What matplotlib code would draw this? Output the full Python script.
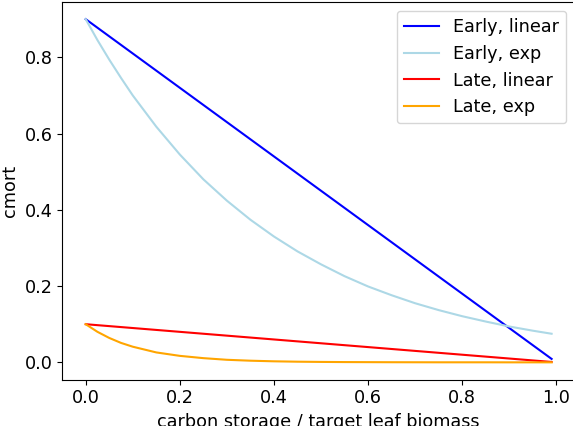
import matplotlib
matplotlib.use("Agg")
import matplotlib.pyplot as plt

# x positions (carbon storage / target leaf biomass) at which curves were read
x_grid = [0.0, 0.025, 0.05, 0.075, 0.1, 0.15, 0.2, 0.25, 0.3, 0.35, 0.4, 0.45,
          0.5, 0.55, 0.6, 0.65, 0.7, 0.75, 0.8, 0.85, 0.9, 0.95, 0.99]

# straight lines: endpoints
x_linear = [0.0, 0.99]
early_linear = [0.9, 0.009]
late_linear = [0.1, 0.001]

early_exp = [0.900, 0.845, 0.794, 0.746, 0.700, 0.618, 0.545, 0.480, 0.424,
             0.374, 0.330, 0.291, 0.257, 0.226, 0.199, 0.176, 0.155, 0.137,
             0.121, 0.107, 0.094, 0.083, 0.075]
late_exp = [0.100, 0.080, 0.064, 0.051, 0.041, 0.026, 0.017, 0.011, 0.0067,
            0.0043, 0.0027, 0.0017, 0.0011, 0.0007, 0.0005, 0.0003, 0.0002,
            0.0001, 0.0001, 0.0001, 0.0000, 0.0000, 0.0000]

plt.rcParams["font.size"] = 12.7

W, H = 573, 426
fig = plt.figure(figsize=(W / 100, H / 100), dpi=100)
# the source figure is cropped: right spine sits just past the edge
ax = fig.add_axes([62.4 / W, (H - 379.5) / H, 512.5 / W, 377.5 / H])

ax.plot(x_linear, early_linear, color="blue", label="Early, linear")
ax.plot(x_grid, early_exp, color="lightblue", label="Early, exp")
ax.plot(x_linear, late_linear, color="red", label="Late, linear")
ax.plot(x_grid, late_exp, color="orange", label="Late, exp")

ax.set_xlabel("carbon storage / target leaf biomass")
ax.set_ylabel("cmort")
ax.set_xticks([0.0, 0.2, 0.4, 0.6, 0.8, 1.0])
ax.set_yticks([0.0, 0.2, 0.4, 0.6, 0.8])
ax.legend(loc="upper right")

fig.savefig("out.png", dpi=100)
